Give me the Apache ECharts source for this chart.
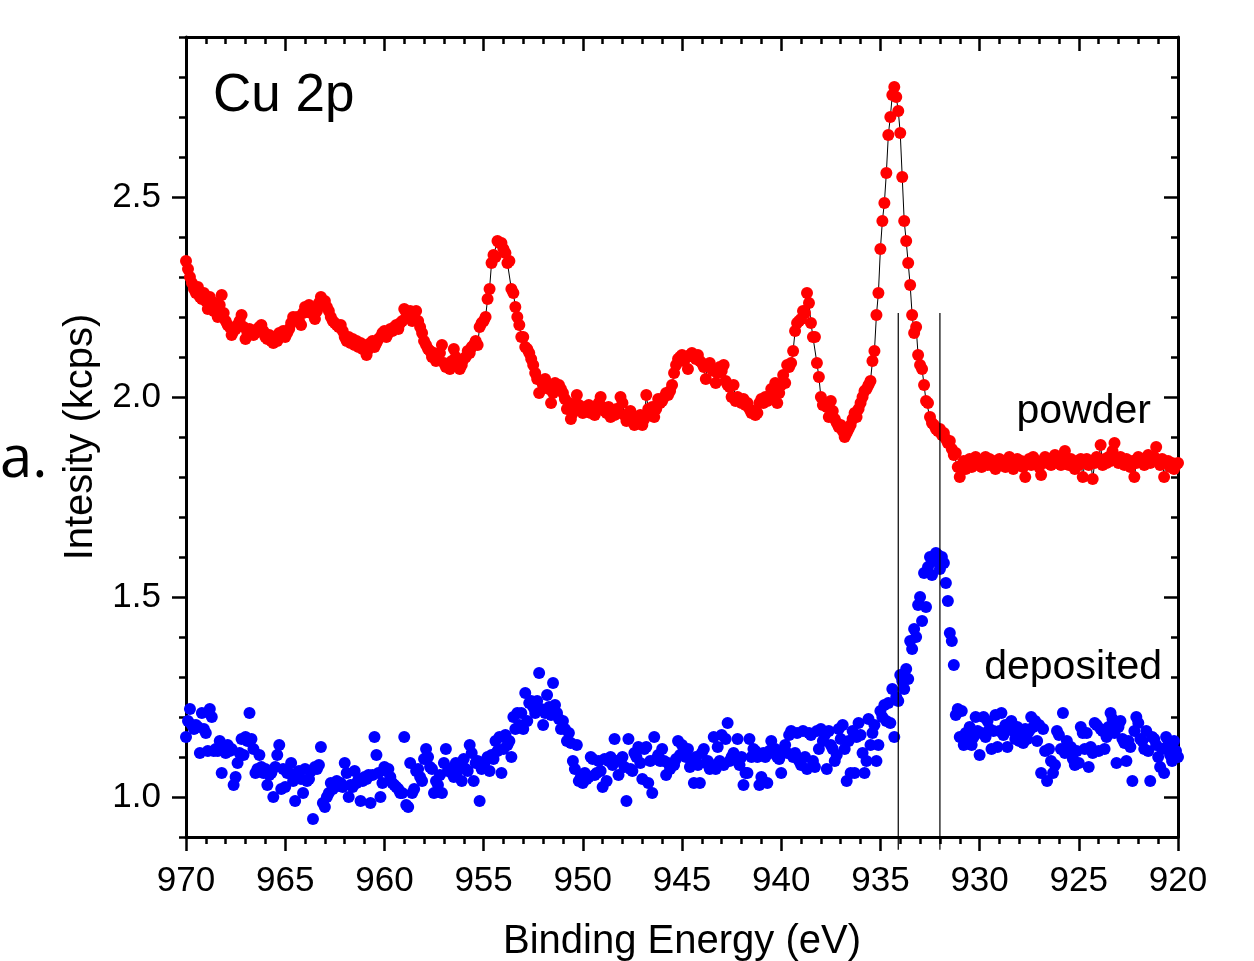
<!DOCTYPE html>
<html>
<head>
<meta charset="utf-8">
<title>Cu 2p</title>
<script src="https://cdn.jsdelivr.net/npm/echarts@6/dist/echarts.min.js"></script>
<style>
    html, body { margin: 0; padding: 0; background: #fff; }
    #chart-container { width: 1254px; height: 961px; }
</style>
</head>
<body>
<div id="chart-container"></div>
<script>
(function (window, echarts) {
    'use strict';

    // binding energy grid: 0.1 eV steps, each block starts at the given energy
    var E_STEP = 0.1;

    // powder (red), kcps
    var powder970 = [2.34, 2.32, 2.30, 2.285, 2.27, 2.26, 2.275, 2.25, 2.245, 2.26,
        2.24, 2.22, 2.25, 2.23, 2.215, 2.235, 2.20, 2.23, 2.255, 2.21,
        2.19, 2.18, 2.175, 2.155, 2.165, 2.17, 2.18, 2.19, 2.205, 2.175,
        2.145, 2.16, 2.17, 2.165, 2.155, 2.16, 2.17, 2.175, 2.18, 2.165,
        2.15, 2.145, 2.155, 2.14, 2.135, 2.15, 2.14, 2.16, 2.155, 2.165];
    var powder965 = [2.15, 2.16, 2.17, 2.185, 2.20, 2.195, 2.20, 2.19, 2.18, 2.21,
        2.225, 2.215, 2.23, 2.21, 2.22, 2.195, 2.215, 2.235, 2.25, 2.23,
        2.24, 2.225, 2.215, 2.20, 2.19, 2.185, 2.18, 2.175, 2.18, 2.165,
        2.15, 2.14, 2.15, 2.135, 2.145, 2.13, 2.14, 2.125, 2.135, 2.12,
        2.13, 2.105, 2.12, 2.135, 2.14, 2.125, 2.135, 2.145, 2.15, 2.16];
    var powder960 = [2.165, 2.15, 2.16, 2.17, 2.165, 2.175, 2.18, 2.17, 2.185, 2.19,
        2.22, 2.20, 2.21, 2.215, 2.19, 2.20, 2.215, 2.19, 2.175, 2.16,
        2.14, 2.13, 2.12, 2.115, 2.10, 2.11, 2.09, 2.095, 2.11, 2.13,
        2.085, 2.075, 2.08, 2.07, 2.09, 2.12, 2.10, 2.085, 2.07, 2.08,
        2.095, 2.10, 2.115, 2.11, 2.125, 2.13, 2.14, 2.13, 2.175, 2.185];
    var powder955 = [2.19, 2.20, 2.245, 2.27, 2.335, 2.355, 2.35, 2.39, 2.385, 2.385,
        2.37, 2.36, 2.335, 2.34, 2.27, 2.26, 2.225, 2.20, 2.18, 2.15,
        2.15, 2.125, 2.12, 2.11, 2.095, 2.08, 2.06, 2.045, 2.01, 2.04,
        2.03, 2.045, 2.03, 2.02, 1.985, 2.01, 2.035, 2.02, 2.03, 2.02,
        2.01, 1.995, 1.97, 1.985, 1.945, 1.96, 1.98, 2.005, 1.98, 1.97];
    var powder950 = [1.96, 1.975, 1.965, 1.98, 1.96, 1.97, 1.955, 1.975, 1.985, 2.0,
        1.975, 1.965, 1.96, 1.975, 1.95, 1.965, 1.955, 1.97, 1.96, 2.0,
        1.985, 1.955, 1.94, 1.95, 1.965, 1.945, 1.93, 1.95, 1.94, 1.955,
        1.93, 1.945, 2.005, 1.97, 1.955, 1.975, 1.95, 1.97, 1.995, 1.985,
        1.99, 2.0, 2.01, 2.005, 2.015, 2.03, 2.06, 2.08, 2.095, 2.10];
    var powder945 = [2.105, 2.09, 2.10, 2.07, 2.105, 2.11, 2.10, 2.095, 2.105, 2.09,
        2.085, 2.075, 2.045, 2.08, 2.085, 2.07, 2.065, 2.035, 2.06, 2.075,
        2.065, 2.08, 2.04, 2.03, 2.025, 2.0, 2.03, 1.99, 2.0, 1.995,
        1.985, 1.995, 1.98, 1.985, 1.97, 1.96, 1.965, 1.955, 1.96, 1.985,
        1.995, 1.985, 2.0, 1.99, 1.995, 2.02, 2.005, 2.035, 1.985, 2.01];
    var powder940 = [2.03, 2.055, 2.035, 2.08, 2.075, 2.085, 2.115, 2.165, 2.185, 2.19,
        2.195, 2.215, 2.21, 2.26, 2.235, 2.185, 2.15, 2.15, 2.085, 2.05,
        2.0, 1.98, 1.98, 1.975, 1.95, 1.99, 1.965, 1.945, 1.935, 1.925,
        1.93, 1.915, 1.90, 1.91, 1.92, 1.93, 1.945, 1.96, 1.95, 1.97,
        1.985, 2.0, 2.015, 2.02, 2.03, 2.04, 2.09, 2.115, 2.205, 2.26];
    var powder935 = [2.37, 2.44, 2.485, 2.56, 2.655, 2.70, 2.755, 2.775, 2.75, 2.715,
        2.66, 2.55, 2.44, 2.39, 2.335, 2.28, 2.205, 2.16, 2.175, 2.105,
        2.08, 2.07, 2.03, 1.99, 1.985, 1.95, 1.935, 1.93, 1.92, 1.915,
        1.92, 1.905, 1.91, 1.895, 1.885, 1.89, 1.87, 1.855, 1.86, 1.825,
        1.80, 1.83, 1.84, 1.82, 1.835, 1.845, 1.825, 1.84, 1.85, 1.83];
    var powder930 = [1.84, 1.825, 1.835, 1.85, 1.83, 1.845, 1.83, 1.84, 1.82, 1.835,
        1.845, 1.83, 1.84, 1.825, 1.84, 1.85, 1.835, 1.82, 1.835, 1.845,
        1.83, 1.84, 1.825, 1.80, 1.835, 1.845, 1.83, 1.85, 1.835, 1.84,
        1.825, 1.805, 1.84, 1.85, 1.835, 1.845, 1.83, 1.84, 1.855, 1.835,
        1.845, 1.83, 1.84, 1.865, 1.84, 1.83, 1.845, 1.835, 1.82, 1.84];
    var powder925 = [1.83, 1.845, 1.80, 1.835, 1.845, 1.83, 1.84, 1.795, 1.835, 1.85,
        1.84, 1.88, 1.83, 1.845, 1.835, 1.85, 1.84, 1.865, 1.885, 1.845,
        1.835, 1.85, 1.84, 1.83, 1.845, 1.835, 1.825, 1.84, 1.80, 1.835,
        1.85, 1.84, 1.845, 1.83, 1.84, 1.855, 1.835, 1.845, 1.85, 1.875,
        1.84, 1.83, 1.845, 1.80, 1.835, 1.84, 1.825, 1.835, 1.82, 1.83, 1.835];

    // deposited (blue), kcps
    var deposited970 = [1.15, 1.19, 1.22, 1.18, 1.17, 1.18, 1.175, 1.11, 1.21, 1.17,
        1.16, 1.115, 1.22, 1.20, 1.115, 1.12, 1.115, 1.14, 1.06, 1.12,
        1.11, 1.13, 1.115, 1.12, 1.03, 1.05, 1.085, 1.11, 1.145, 1.105,
        1.15, 1.14, 1.21, 1.145, 1.12, 1.06, 1.07, 1.105, 1.075, 1.06,
        1.07, 1.03, 1.055, 1.06, 1.00, 1.075, 1.105, 1.13, 1.02, 1.07];
    var deposited965 = [1.025, 1.06, 1.06, 1.085, 1.04, 0.99, 1.06, 1.065, 1.045, 1.01,
        1.07, 1.04, 1.045, 1.065, 0.945, 1.075, 1.07, 1.08, 1.125, 0.985,
        0.975, 1.0, 1.01, 1.035, 1.02, 1.025, 1.04, 1.03, 1.035, 1.025,
        1.085, 1.06, 1.00, 1.03, 1.025, 1.065, 1.035, 1.045, 0.99, 1.04,
        1.05, 1.045, 1.055, 0.985, 1.055, 1.15, 1.105, 1.06, 1.0, 1.035];
    var deposited960 = [1.075, 1.065, 1.07, 1.05, 1.035, 1.03, 1.025, 1.02, 1.01, 1.01,
        1.15, 0.98, 0.975, 1.085, 1.01, 1.02, 1.065, 1.07, 1.05, 1.04,
        1.095, 1.12, 1.10, 1.075, 1.07, 1.01, 1.04, 1.03, 1.055, 1.01,
        1.085, 1.12, 1.065, 1.07, 1.06, 1.05, 1.085, 1.065, 1.07, 1.04,
        1.095, 1.07, 1.065, 1.13, 1.11, 1.04, 1.085, 1.09, 0.99, 1.07];
    var deposited955 = [1.08, 1.09, 1.10, 1.065, 1.105, 1.095, 1.14, 1.115, 1.15, 1.06,
        1.12, 1.155, 1.13, 1.14, 1.10, 1.20, 1.17, 1.21, 1.18, 1.21,
        1.17, 1.26, 1.19, 1.235, 1.24, 1.225, 1.21, 1.24, 1.31, 1.22,
        1.18, 1.21, 1.255, 1.225, 1.205, 1.285, 1.23, 1.21, 1.195, 1.17,
        1.19, 1.17, 1.14, 1.16, 1.135, 1.09, 1.07, 1.13, 1.04, 1.05];
    var deposited950 = [1.035, 1.06, 1.045, 1.05, 1.10, 1.095, 1.055, 1.06, 1.09, 1.065,
        1.025, 1.095, 1.04, 1.09, 1.10, 1.08, 1.145, 1.09, 1.055, 1.09,
        1.10, 1.075, 0.99, 1.145, 1.07, 1.065, 1.11, 1.10, 1.125, 1.085,
        1.045, 1.12, 1.125, 1.035, 1.09, 1.01, 1.15, 1.095, 1.105, 1.09,
        1.12, 1.09, 1.055, 1.085, 1.07, 1.08, 1.08, 1.095, 1.14, 1.105];
    var deposited945 = [1.13, 1.115, 1.10, 1.12, 1.075, 1.09, 1.035, 1.10, 1.08, 1.035,
        1.11, 1.12, 1.085, 1.09, 1.07, 1.08, 1.15, 1.07, 1.125, 1.09,
        1.155, 1.08, 1.145, 1.185, 1.09, 1.10, 1.11, 1.10, 1.145, 1.08,
        1.10, 1.03, 1.06, 1.06, 1.145, 1.10, 1.12, 1.115, 1.10, 1.03,
        1.05, 1.11, 1.10, 1.035, 1.115, 1.14, 1.11, 1.12, 1.10, 1.095];
    var deposited940 = [1.06, 1.115, 1.13, 1.11, 1.155, 1.165, 1.10, 1.11, 1.16, 1.09,
        1.08, 1.165, 1.10, 1.07, 1.16, 1.155, 1.09, 1.075, 1.165, 1.12,
        1.17, 1.14, 1.155, 1.07, 1.165, 1.13, 1.12, 1.09, 1.105, 1.17,
        1.145, 1.18, 1.12, 1.04, 1.14, 1.06, 1.165, 1.06, 1.15, 1.185,
        1.155, 1.11, 1.06, 1.09, 1.195, 1.13, 1.16, 1.18, 1.09, 1.13];
    var deposited935 = [1.215, 1.20, 1.23, 1.19, 1.235, 1.185, 1.27, 1.15, 1.25, 1.24,
        1.305, 1.29, 1.27, 1.32, 1.295, 1.39, 1.37, 1.42, 1.40, 1.48,
        1.50, 1.44, 1.56, 1.475, 1.575, 1.60, 1.555, 1.59, 1.61, 1.605,
        1.57, 1.60, 1.585, 1.535, 1.49, 1.41, 1.39, 1.33, 1.205, 1.22,
        1.15, 1.215, 1.13, 1.16, 1.14, 1.175, 1.13, 1.15, 1.20, 1.165];
    var deposited930 = [1.105, 1.16, 1.20, 1.15, 1.19, 1.17, 1.12, 1.165, 1.205, 1.125,
        1.165, 1.21, 1.155, 1.18, 1.125, 1.17, 1.19, 1.165, 1.145, 1.175,
        1.14, 1.16, 1.135, 1.17, 1.145, 1.165, 1.20, 1.175, 1.19, 1.14,
        1.18, 1.06, 1.17, 1.115, 1.04, 1.12, 1.09, 1.06, 1.08, 1.165,
        1.155, 1.12, 1.21, 1.11, 1.14, 1.12, 1.125, 1.095, 1.08, 1.115];
    var deposited925 = [1.085, 1.175, 1.16, 1.12, 1.16, 1.075, 1.125, 1.11, 1.185, 1.18,
        1.115, 1.17, 1.165, 1.12, 1.15, 1.175, 1.21, 1.195, 1.16, 1.085,
        1.175, 1.19, 1.145, 1.135, 1.09, 1.14, 1.125, 1.04, 1.165, 1.20,
        1.185, 1.145, 1.14, 1.12, 1.165, 1.115, 1.04, 1.15, 1.145, 1.13,
        1.10, 1.075, 1.12, 1.06, 1.15, 1.13, 1.105, 1.09, 1.14, 1.115, 1.10];

    // reference lines (eV) and their vertical extent (kcps)
    var guideEnergies = [934.1, 932.0];
    var guideTop = 2.21;
    var guideBottom = 0.868;

    var xTickInterval = 5;
    var yMajorTicks = [1.0, 1.5, 2.0, 2.5];

    var FONT = '"Liberation Sans", Arial, sans-serif';

    function toPoints(start, values) {
        return values.map(function (v, i) {
            return [+(start - i * E_STEP).toFixed(1), v];
        });
    }

    var powder = [].concat(
        toPoints(970, powder970), toPoints(965, powder965), toPoints(960, powder960),
        toPoints(955, powder955), toPoints(950, powder950), toPoints(945, powder945),
        toPoints(940, powder940), toPoints(935, powder935), toPoints(930, powder930),
        toPoints(925, powder925)
    );
    var deposited = [].concat(
        toPoints(970, deposited970), toPoints(965, deposited965), toPoints(960, deposited960),
        toPoints(955, deposited955), toPoints(950, deposited950), toPoints(945, deposited945),
        toPoints(940, deposited940), toPoints(935, deposited935), toPoints(930, deposited930),
        toPoints(925, deposited925)
    );

    var axisLine = {show: true, lineStyle: {color: '#000', width: 3}};

    function xAxis(position, isMain) {
        return {
            type: 'value', position: position, min: 920, max: 970, interval: xTickInterval,
            inverse: true, gridIndex: 0,
            axisLine: axisLine,
            axisTick: {show: true, inside: !isMain, length: 14, lineStyle: {color: '#000', width: 2.5}},
            minorTick: {show: true, splitNumber: 5, length: 7, lineStyle: {color: '#000', width: 2.5}},
            axisLabel: {show: isMain, color: '#000', fontSize: 35, fontFamily: FONT, margin: 27},
            splitLine: {show: false},
            name: isMain ? 'Binding Energy (eV)' : '',
            nameLocation: 'middle', nameGap: 85,
            nameTextStyle: {color: '#000', fontSize: 40, fontFamily: FONT}
        };
    }

    function yMajor(position, isMain) {
        return {
            type: 'value', position: position, min: 0.9, max: 2.9, gridIndex: 0,
            axisLine: axisLine,
            axisTick: {show: true, inside: !isMain, length: 14, customValues: yMajorTicks,
                lineStyle: {color: '#000', width: 2.5}},
            axisLabel: {show: isMain, customValues: yMajorTicks, color: '#000', fontSize: 35,
                fontFamily: FONT, margin: 25,
                formatter: function (v) { return v.toFixed(1); }},
            splitLine: {show: false},
            name: isMain ? 'Intesity (kcps)' : '',
            nameLocation: 'middle', nameGap: 80,
            nameTextStyle: {color: '#000', fontSize: 40, fontFamily: FONT}
        };
    }

    function yMinor(position, isMain) {
        return {
            type: 'value', position: position, min: 0.9, max: 2.9, interval: 0.1, gridIndex: 0,
            axisLine: {show: false},
            axisTick: {show: true, inside: !isMain, length: 7, lineStyle: {color: '#000', width: 2.5}},
            axisLabel: {show: false},
            splitLine: {show: false}
        };
    }

    var guideSeries = guideEnergies.map(function (e) {
        return {
            type: 'line', xAxisIndex: 0, yAxisIndex: 0, clip: false, z: 5,
            symbol: 'none', silent: true,
            lineStyle: {color: '#000', width: 1.2},
            data: [[e, guideTop], [e, guideBottom]]
        };
    });

    var chart = echarts.init(document.getElementById('chart-container'));
    chart.setOption({
        backgroundColor: '#fff',
        animation: false,
        textStyle: {fontFamily: FONT},
        grid: {left: 186, top: 37, width: 992, height: 800, containLabel: false, outerBoundsMode: 'none'},
        xAxis: [xAxis('bottom', true), xAxis('top', false)],
        yAxis: [yMajor('left', true), yMinor('left', true), yMajor('right', false), yMinor('right', false)],
        series: [
            {
                name: 'powder', type: 'line', xAxisIndex: 0, yAxisIndex: 0,
                data: powder, showSymbol: true, showAllSymbol: true,
                symbol: 'circle', symbolSize: 12,
                itemStyle: {color: '#ff0000', opacity: 1},
                lineStyle: {color: '#000', width: 1}
            },
            {
                name: 'deposited', type: 'scatter', xAxisIndex: 0, yAxisIndex: 0,
                data: deposited, symbol: 'circle', symbolSize: 12,
                itemStyle: {color: '#0000ff', opacity: 1}
            }
        ].concat(guideSeries),
        graphic: [
            {type: 'text', left: 213, top: 70, style: {text: 'Cu 2p', font: '53px ' + FONT, fill: '#000'}},
            {type: 'text', right: 103, top: 391, style: {text: 'powder', font: '41px ' + FONT, fill: '#000'}},
            {type: 'text', right: 92, top: 647, style: {text: 'deposited', font: '41px ' + FONT, fill: '#000'}},
            {type: 'text', left: 0, top: 431, style: {text: 'a.', font: '58px "Open Sans", sans-serif', fill: '#000'}}
        ]
    });

})(window, window.echarts);
</script>
</body>
</html>
